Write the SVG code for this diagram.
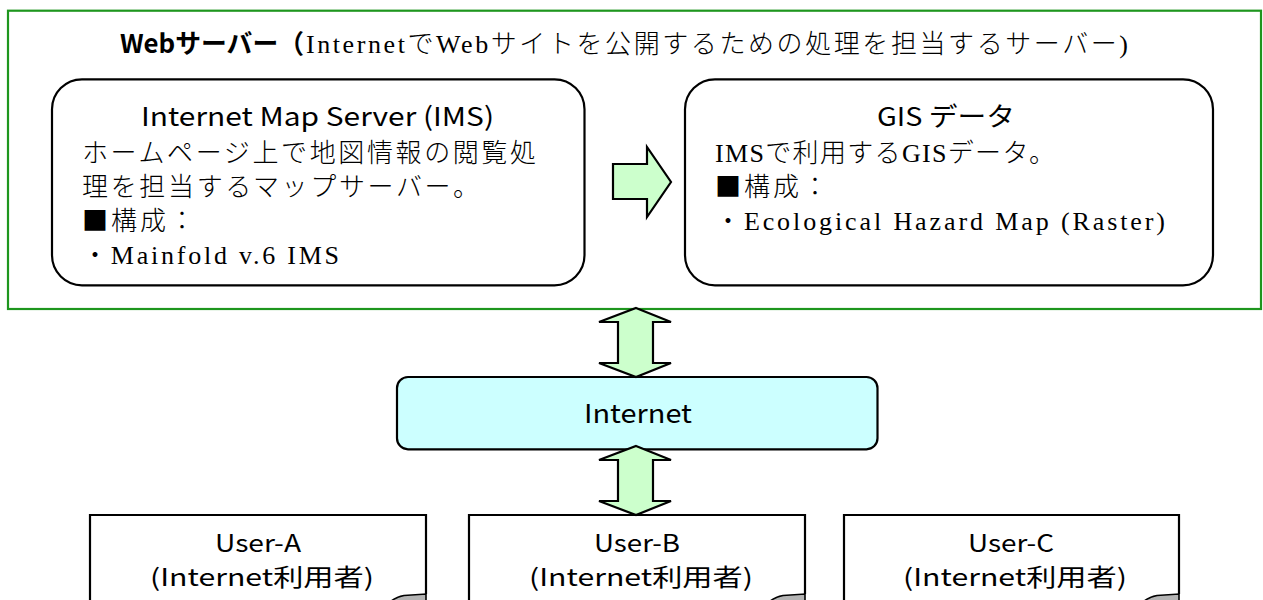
<svg xmlns="http://www.w3.org/2000/svg" width="1263" height="600" viewBox="0 0 1263 600">
  <style>
    .frame { fill: #ffffff; stroke: #1e961e; stroke-width: 2.2; }
    .box { fill: #ffffff; stroke: #000000; stroke-width: 2.2; }
    .net { fill: #ccffff; stroke: #000000; stroke-width: 2.2; }
    .arrow { fill: #ccffcc; stroke: #000000; stroke-width: 2.2; stroke-linejoin: miter; }
    .flap { fill: #b4b4b4; stroke: #000000; stroke-width: 1.6; }
    .goth { font-family: "Noto Sans CJK JP", "Noto Sans", sans-serif; font-size: 26px; fill: #000; }
    .min { font-family: "Liberation Serif", "Noto Sans CJK JP", serif; font-size: 26px; font-weight: 300; fill: #000; }
    .cjk { font-family: "Noto Sans CJK JP", sans-serif; }
    .bold { font-weight: bold; }
    .user { font-family: "Noto Sans CJK JP", "Noto Sans", sans-serif; font-size: 24px; fill: #000; }
  </style>

  <!-- Web server frame -->
  <g id="web-server">
    <rect class="frame" x="8" y="10.7" width="1253" height="298.3"/>
    <text class="goth bold" x="120" y="53" textLength="184" lengthAdjust="spacingAndGlyphs">Webサーバー（</text>
    <text class="min" x="306" y="53" textLength="822" lengthAdjust="spacing">InternetでWebサイトを公開するための処理を担当するサーバー)</text>
  </g>

  <!-- Internet Map Server -->
  <g id="ims">
    <rect class="box" x="52" y="79.3" width="532.5" height="206" rx="30" ry="30"/>
    <text class="goth" x="141" y="126" textLength="353" lengthAdjust="spacingAndGlyphs">Internet Map Server (IMS)</text>
    <text class="min" x="82" y="162" textLength="454" lengthAdjust="spacing">ホームページ上で地図情報の閲覧処</text>
    <text class="min" x="82" y="196" textLength="397" lengthAdjust="spacing">理を担当するマップサーバー。</text>
    <text class="min" x="82" y="230" textLength="113" lengthAdjust="spacing"><tspan class="cjk">■構成：</tspan></text>
    <text class="min" x="82" y="264" textLength="257" lengthAdjust="spacing"><tspan class="cjk">・</tspan>Mainfold v.6 IMS</text>
  </g>

  <!-- GIS data -->
  <g id="gis-data">
    <rect class="box" x="685" y="79.3" width="528" height="206" rx="30" ry="30"/>
    <text class="goth" x="877" y="126" textLength="138" lengthAdjust="spacingAndGlyphs">GIS データ</text>
    <text class="min" x="715" y="162" textLength="340" lengthAdjust="spacing">IMSで利用するGISデータ。</text>
    <text class="min" x="715" y="196" textLength="113" lengthAdjust="spacing"><tspan class="cjk">■構成：</tspan></text>
    <text class="min" x="715" y="230" textLength="450" lengthAdjust="spacing"><tspan class="cjk">・</tspan>Ecological Hazard Map (Raster)</text>
  </g>

  <!-- Internet -->
  <g id="internet">
    <rect class="net" x="397" y="377" width="480.5" height="72.3" rx="11" ry="11"/>
    <text class="goth" x="584" y="423" textLength="108" lengthAdjust="spacingAndGlyphs">Internet</text>
  </g>

  <!-- Users: folded-corner note boxes running past the bottom edge -->
  <g id="user-a">
    <path class="box" d="M90,612 V515 H426 V594"/>
    <path class="flap" d="M389,603 Q395,597 404,595.5 L426,594 L426,603 Z"/>
    <text class="user" x="215" y="552" textLength="86" lengthAdjust="spacingAndGlyphs">User-A</text>
    <text class="user" x="150" y="586" textLength="224" lengthAdjust="spacingAndGlyphs">(Internet利用者)</text>
  </g>
  <g id="user-b">
    <path class="box" d="M469,612 V515 H805 V594"/>
    <path class="flap" d="M768,603 Q774,597 783,595.5 L805,594 L805,603 Z"/>
    <text class="user" x="594" y="552" textLength="86" lengthAdjust="spacingAndGlyphs">User-B</text>
    <text class="user" x="529" y="586" textLength="224" lengthAdjust="spacingAndGlyphs">(Internet利用者)</text>
  </g>
  <g id="user-c">
    <path class="box" d="M844,612 V515 H1179 V594"/>
    <path class="flap" d="M1142,603 Q1148,597 1157,595.5 L1179,594 L1179,603 Z"/>
    <text class="user" x="968" y="552" textLength="86" lengthAdjust="spacingAndGlyphs">User-C</text>
    <text class="user" x="903" y="586" textLength="224" lengthAdjust="spacingAndGlyphs">(Internet利用者)</text>
  </g>

  <!-- Connectors: block arrows -->
  <g id="connectors">
    <polygon class="arrow" points="613,164 647,164 647,147 671,182 647,217 647,199 613,199"/>
    <polygon class="arrow" points="636,308 671,322 653,322 653,363 671,363 636,377 599,363 618,363 618,322 599,322"/>
    <polygon class="arrow" points="636,446 671,460 653,460 653,501 671,501 636,515 599,501 618,501 618,460 599,460"/>
  </g>
</svg>
